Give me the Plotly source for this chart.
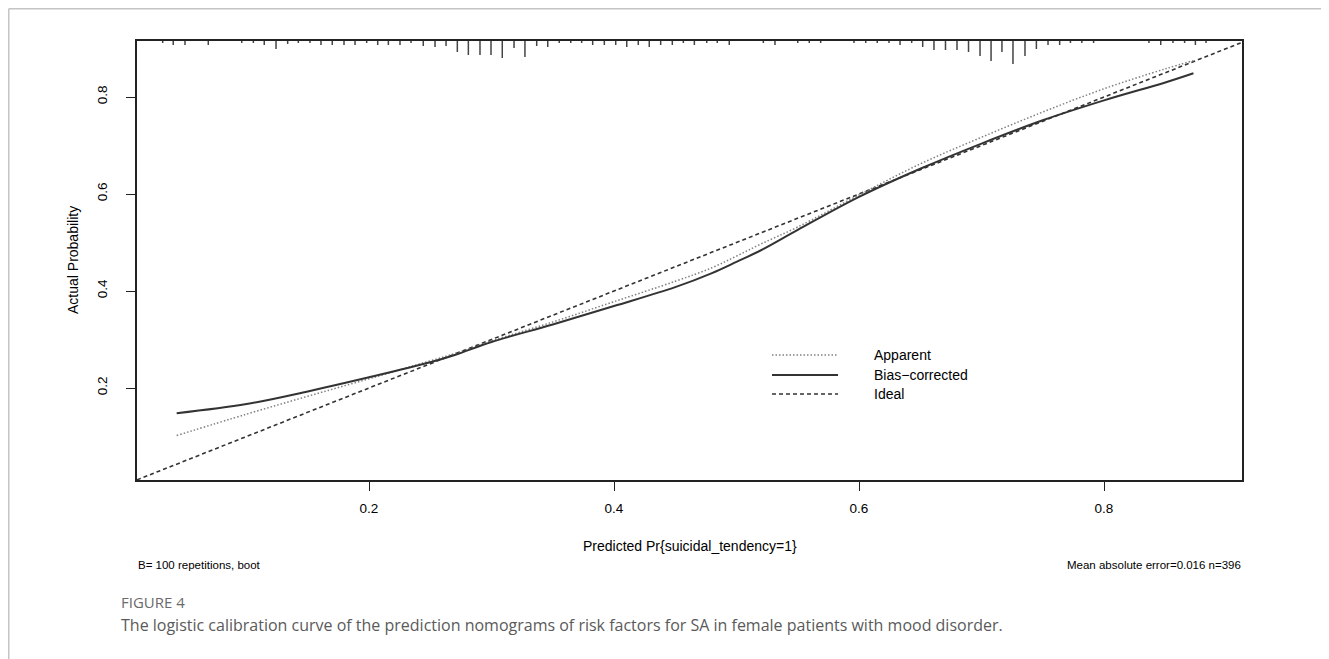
import plotly.graph_objects as go

# the page body adds an 8px margin; the figure fills the rest of the window
OFF = 8
W, H = 1329 - OFF, 659 - OFF

# ---------------- data ----------------
pred_x = [0.043, 0.10, 0.15, 0.20, 0.25, 0.27, 0.30, 0.35, 0.40, 0.45, 0.48, 0.50, 0.52,
          0.55, 0.60, 0.65, 0.70, 0.75, 0.80, 0.85, 0.873]
apparent_y = [0.102, 0.146, 0.183, 0.219, 0.256, 0.271, 0.297, 0.336, 0.378, 0.420, 0.448,
              0.472, 0.497, 0.532, 0.598, 0.662, 0.717, 0.769, 0.817, 0.858, 0.875]
bias_corrected_y = [0.148, 0.167, 0.193, 0.222, 0.253, 0.268, 0.295, 0.331, 0.369, 0.408,
                    0.437, 0.460, 0.484, 0.526, 0.594, 0.652, 0.704, 0.752, 0.793, 0.830, 0.849]
ideal_x = [0.0, 1.0]
ideal_y = [0.0, 1.0]

rug_prob = [0.0316, 0.0402, 0.0498, 0.0688, 0.0961, 0.1056, 0.1145, 0.1241, 0.1336, 0.1423,
            0.1518, 0.1608, 0.1700, 0.1796, 0.1886, 0.1981, 0.2071, 0.2158, 0.2253, 0.2343,
            0.2443, 0.2539, 0.2629, 0.2721, 0.2811, 0.2906, 0.2996, 0.3088, 0.3184, 0.3273,
            0.3369, 0.3459, 0.3553, 0.3647, 0.3736, 0.3826, 0.3921, 0.4014, 0.4104, 0.4198,
            0.4288, 0.4381, 0.4476, 0.4566, 0.4656, 0.4757, 0.4843, 0.4941, 0.5219, 0.5314,
            0.5500, 0.5594, 0.5687, 0.5959, 0.6055, 0.6149, 0.6245, 0.6335, 0.6430, 0.6520,
            0.6612, 0.6706, 0.6800, 0.6894, 0.6988, 0.7078, 0.7167, 0.7257, 0.7355, 0.7448,
            0.7543, 0.7638, 0.7726, 0.7819, 0.7915, 0.8367, 0.8463, 0.8563, 0.8658, 0.8746,
            0.8833]
rug_freq = [1, 3, 3, 3, 1, 1, 3, 7, 2, 1,
            1, 3, 3, 3, 3, 1, 3, 3, 3, 1,
            4, 5, 4, 10, 13, 13, 13, 16, 6, 15,
            4, 5, 1, 1, 1, 3, 3, 3, 5, 3,
            5, 3, 3, 1, 3, 1, 1, 3, 1, 3,
            1, 1, 1, 1, 1, 1, 1, 3, 1, 5,
            8, 8, 8, 10, 14, 19, 10, 22, 14, 7,
            3, 3, 1, 1, 1, 1, 3, 1, 1, 3,
            1]

x_ticks = [0.2, 0.4, 0.6, 0.8]
y_ticks = [0.2, 0.4, 0.6, 0.8]
legend_labels = ["Apparent", "Bias\u2212corrected", "Ideal"]

x_title = "Predicted Pr{suicidal_tendency=1}"
y_title = "Actual Probability"
note_left = "B= 100 repetitions, boot"
note_right = "Mean absolute error=0.016 n=396"
fig_label = "FIGURE 4"
caption = ("The logistic calibration curve of the prediction nomograms of risk factors for SA "
           "in female patients with mood disorder.")

# ---------------- layout helpers (window pixel -> paper) ----------------
def px(x):
    return (x - OFF) / W

def py(y):
    return 1 - (y - OFF) / H

PL, PR, PT, PB = 137, 1242, 41, 480
FONT = "Liberation Sans, Arial, sans-serif"
CAP_FONT = "Open Sans, Noto Sans, sans-serif"
INK = "#222222"

fig = go.Figure()

fig.add_trace(go.Scatter(x=ideal_x, y=ideal_y, mode="lines",
                         line=dict(color="#333333", width=1.6, dash="4px,3px"),
                         hoverinfo="skip", name="Ideal"))
fig.add_trace(go.Scatter(x=pred_x, y=apparent_y, mode="lines",
                         line=dict(color="#808080", width=1.5, dash="1.5px,2px", shape="spline"),
                         name="Apparent"))
fig.add_trace(go.Scatter(x=pred_x, y=bias_corrected_y, mode="lines",
                         line=dict(color="#333333", width=2, shape="spline"),
                         name="Bias-corrected"))

shapes = []
# rug (spike histogram) along the top
rug_px_per_unit = 1.0
for xv, f in zip(rug_prob, rug_freq):
    shapes.append(dict(type="line", xref="x", yref="paper",
                       x0=xv, x1=xv, y0=py(PT), y1=py(PT + 1 + f * rug_px_per_unit),
                       line=dict(color="#444444", width=1.5)))

# legend drawn by hand
leg_x0, leg_x1, leg_tx = 772, 838, 872
leg_y = [355, 375, 394]
leg_styles = [dict(color="#808080", width=1.5, dash="1.5px,2px"),
              dict(color="#333333", width=2),
              dict(color="#333333", width=1.6, dash="4px,3px")]
for yy, st in zip(leg_y, leg_styles):
    shapes.append(dict(type="line", xref="paper", yref="paper",
                       x0=px(leg_x0), x1=px(leg_x1), y0=py(yy), y1=py(yy), line=st))

# page frame
shapes.append(dict(type="line", xref="paper", yref="paper", x0=px(OFF + 0.75), x1=1,
                   y0=py(OFF + 0.75), y1=py(OFF + 0.75),
                   line=dict(color="#c4c4c4", width=1.5)))
shapes.append(dict(type="line", xref="paper", yref="paper", x0=px(OFF + 0.75), x1=px(OFF + 0.75),
                   y0=py(OFF + 0.75), y1=0, line=dict(color="#c4c4c4", width=1.5)))

annotations = []
for yy, lab in zip(leg_y, legend_labels):
    annotations.append(dict(text=lab, xref="paper", yref="paper", x=px(leg_tx), y=py(yy),
                            xanchor="left", yanchor="middle", showarrow=False,
                            font=dict(family=FONT, size=14, color="#000000")))
annotations += [
    dict(text=x_title, xref="paper", yref="paper", x=px(690), y=py(546), xanchor="center",
         yanchor="middle", showarrow=False, font=dict(family=FONT, size=14, color="#000")),
    dict(text=y_title, xref="paper", yref="paper", x=px(73), y=py(260), xanchor="center",
         yanchor="middle", textangle=-90, showarrow=False,
         font=dict(family=FONT, size=14, color="#000")),
    dict(text=note_left, xref="paper", yref="paper", x=px(136), y=py(565), xanchor="left",
         yanchor="middle", showarrow=False, font=dict(family=FONT, size=11.5, color="#000")),
    dict(text=note_right, xref="paper", yref="paper", x=px(1243), y=py(565), xanchor="right",
         yanchor="middle", showarrow=False, font=dict(family=FONT, size=11.5, color="#000")),
    dict(text=fig_label, xref="paper", yref="paper", x=px(119), y=py(602), xanchor="left",
         yanchor="middle", showarrow=False,
         font=dict(family=CAP_FONT, size=15, color="#6a6a6a")),
    dict(text=caption, xref="paper", yref="paper", x=px(119), y=py(625), xanchor="left",
         yanchor="middle", showarrow=False,
         font=dict(family=CAP_FONT, size=16, color="#5a5a5a")),
]

x_per = (1104 - 369) / 0.6
x0v = 0.2 - (369 - PL) / x_per
x1v = 0.2 + (PR - 369) / x_per
y_per = (388 - 97) / 0.6
y0v = 0.2 - (PB - 388) / y_per
y1v = 0.2 + (388 - PT) / y_per

fig.update_layout(
    width=W, height=H,
    margin=dict(l=0, r=0, t=0, b=0),
    paper_bgcolor="white", plot_bgcolor="white",
    showlegend=False,
    shapes=shapes, annotations=annotations,
    xaxis=dict(domain=[px(PL), px(PR)], range=[x0v, x1v], tickvals=x_ticks,
               ticktext=[str(v) for v in x_ticks],
               showgrid=False, zeroline=False, showline=True, mirror=True,
               linecolor=INK, linewidth=1.5, ticks="outside", ticklen=9, tickwidth=1.3,
               tickcolor=INK, ticklabelstandoff=6,
               tickfont=dict(family=FONT, size=13.5, color="#000")),
    yaxis=dict(domain=[py(PB), py(PT)], range=[y0v, y1v], tickvals=y_ticks,
               ticktext=[str(v) for v in y_ticks], tickangle=-90,
               showgrid=False, zeroline=False, showline=True, mirror=True,
               linecolor=INK, linewidth=1.5, ticks="outside", ticklen=9, tickwidth=1.3,
               tickcolor=INK, ticklabelstandoff=14,
               tickfont=dict(family=FONT, size=13.5, color="#000")),
)

fig.write_html("out.html")
